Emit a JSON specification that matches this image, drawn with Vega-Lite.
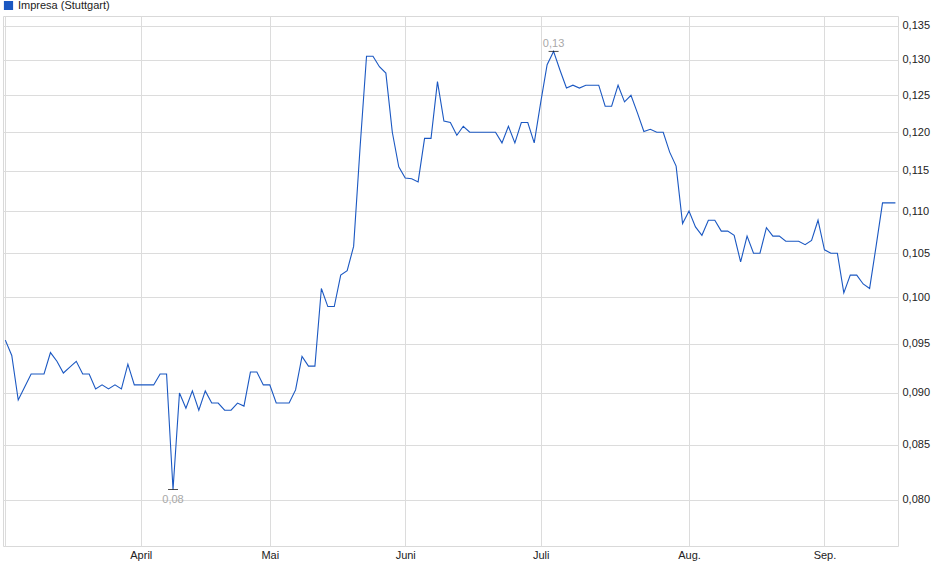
{
  "$schema": "https://vega.github.io/schema/vega-lite/v6.json",
  "autosize": "none",
  "width": 895,
  "height": 530,
  "padding": {"left": 3, "top": 16, "right": 42, "bottom": 33},
  "background": "#ffffff",
  "config": {
    "font": "Liberation Sans",
    "view": {"stroke": "#d9d9d9", "strokeWidth": 1},
    "axis": {"gridColor": "#dcdcdc", "gridWidth": 1, "domain": false, "ticks": false, "labelFontSize": 11, "labelColor": "#222222", "labelFont": "Liberation Sans", "title": null}
  },
  "datasets": {
    "series": [
      {"i": 0, "v": 0.0954}, {"i": 1, "v": 0.0938}, {"i": 2, "v": 0.0893}, {"i": 3, "v": 0.0906},
      {"i": 4, "v": 0.0919}, {"i": 5, "v": 0.0919}, {"i": 6, "v": 0.0919}, {"i": 7, "v": 0.0941},
      {"i": 8, "v": 0.0932}, {"i": 9, "v": 0.0920}, {"i": 10, "v": 0.0926}, {"i": 11, "v": 0.0932},
      {"i": 12, "v": 0.0919}, {"i": 13, "v": 0.0919}, {"i": 14, "v": 0.0904}, {"i": 15, "v": 0.0908},
      {"i": 16, "v": 0.0904}, {"i": 17, "v": 0.0908}, {"i": 18, "v": 0.0904}, {"i": 19, "v": 0.0929},
      {"i": 20, "v": 0.0908}, {"i": 21, "v": 0.0908}, {"i": 22, "v": 0.0908}, {"i": 23, "v": 0.0908},
      {"i": 24, "v": 0.0919}, {"i": 25, "v": 0.0919}, {"i": 26, "v": 0.0809}, {"i": 27, "v": 0.0900},
      {"i": 28, "v": 0.0885}, {"i": 29, "v": 0.0902}, {"i": 30, "v": 0.0883}, {"i": 31, "v": 0.0902},
      {"i": 32, "v": 0.0890}, {"i": 33, "v": 0.0890}, {"i": 34, "v": 0.0883}, {"i": 35, "v": 0.0883},
      {"i": 36, "v": 0.0890}, {"i": 37, "v": 0.0887}, {"i": 38, "v": 0.0921}, {"i": 39, "v": 0.0921},
      {"i": 40, "v": 0.0908}, {"i": 41, "v": 0.0908}, {"i": 42, "v": 0.0890}, {"i": 43, "v": 0.0890},
      {"i": 44, "v": 0.0890}, {"i": 45, "v": 0.0903}, {"i": 46, "v": 0.0937}, {"i": 47, "v": 0.0927},
      {"i": 48, "v": 0.0927}, {"i": 49, "v": 0.1010}, {"i": 50, "v": 0.0990}, {"i": 51, "v": 0.0990},
      {"i": 52, "v": 0.1025}, {"i": 53, "v": 0.1030}, {"i": 54, "v": 0.1058}, {"i": 55, "v": 0.1180},
      {"i": 56, "v": 0.1305}, {"i": 57, "v": 0.1305}, {"i": 58, "v": 0.1290}, {"i": 59, "v": 0.1281},
      {"i": 60, "v": 0.1200}, {"i": 61, "v": 0.1155}, {"i": 62, "v": 0.1141}, {"i": 63, "v": 0.1140},
      {"i": 64, "v": 0.1136}, {"i": 65, "v": 0.1192}, {"i": 66, "v": 0.1192}, {"i": 67, "v": 0.1269},
      {"i": 68, "v": 0.1215}, {"i": 69, "v": 0.1213}, {"i": 70, "v": 0.1196}, {"i": 71, "v": 0.1208},
      {"i": 72, "v": 0.1200}, {"i": 73, "v": 0.1200}, {"i": 74, "v": 0.1200}, {"i": 75, "v": 0.1200},
      {"i": 76, "v": 0.1200}, {"i": 77, "v": 0.1186}, {"i": 78, "v": 0.1208}, {"i": 79, "v": 0.1186},
      {"i": 80, "v": 0.1213}, {"i": 81, "v": 0.1213}, {"i": 82, "v": 0.1186}, {"i": 83, "v": 0.1240},
      {"i": 84, "v": 0.1293}, {"i": 85, "v": 0.1312}, {"i": 86, "v": 0.1285}, {"i": 87, "v": 0.1260},
      {"i": 88, "v": 0.1264}, {"i": 89, "v": 0.1260}, {"i": 90, "v": 0.1264}, {"i": 91, "v": 0.1264},
      {"i": 92, "v": 0.1264}, {"i": 93, "v": 0.1235}, {"i": 94, "v": 0.1235}, {"i": 95, "v": 0.1264},
      {"i": 96, "v": 0.1241}, {"i": 97, "v": 0.1250}, {"i": 98, "v": 0.1226}, {"i": 99, "v": 0.1201},
      {"i": 100, "v": 0.1204}, {"i": 101, "v": 0.1200}, {"i": 102, "v": 0.1200}, {"i": 103, "v": 0.1174},
      {"i": 104, "v": 0.1156}, {"i": 105, "v": 0.1085}, {"i": 106, "v": 0.1100}, {"i": 107, "v": 0.1081},
      {"i": 108, "v": 0.1071}, {"i": 109, "v": 0.1089}, {"i": 110, "v": 0.1089}, {"i": 111, "v": 0.1076},
      {"i": 112, "v": 0.1076}, {"i": 113, "v": 0.1071}, {"i": 114, "v": 0.1040}, {"i": 115, "v": 0.1070},
      {"i": 116, "v": 0.1050}, {"i": 117, "v": 0.1050}, {"i": 118, "v": 0.1080}, {"i": 119, "v": 0.1070},
      {"i": 120, "v": 0.1070}, {"i": 121, "v": 0.1064}, {"i": 122, "v": 0.1064}, {"i": 123, "v": 0.1064},
      {"i": 124, "v": 0.1060}, {"i": 125, "v": 0.1065}, {"i": 126, "v": 0.1089}, {"i": 127, "v": 0.1054},
      {"i": 128, "v": 0.1050}, {"i": 129, "v": 0.1050}, {"i": 130, "v": 0.1005}, {"i": 131, "v": 0.1025},
      {"i": 132, "v": 0.1025}, {"i": 133, "v": 0.1015}, {"i": 134, "v": 0.1010}, {"i": 135, "v": 0.1058},
      {"i": 136, "v": 0.1110}, {"i": 137, "v": 0.1110}, {"i": 138, "v": 0.1110}
    ],
    "extremes": [
      {"i": 26, "v": 0.0809, "label": "0,08", "side": "min"},
      {"i": 85, "v": 0.1312, "label": "0,13", "side": "max"}
    ]
  },
  "encoding": {
    "x": {
      "field": "i", "type": "quantitative",
      "scale": {"domain": [-0.36, 138.4], "nice": false, "zero": false},
      "axis": {
        "values": [0, 21, 41, 62, 83, 106, 127],
        "labelExpr": "datum.value == 21 ? 'April' : datum.value == 41 ? 'Mai' : datum.value == 62 ? 'Juni' : datum.value == 83 ? 'Juli' : datum.value == 106 ? 'Aug.' : datum.value == 127 ? 'Sep.' : ''",
        "labelPadding": 3,
        "labelFlush": false,
        "labelOverlap": false
      }
    },
    "y": {
      "field": "v", "type": "quantitative",
      "scale": {"type": "log", "domain": [0.07601, 0.13643], "nice": false, "zero": false},
      "axis": {
        "orient": "right",
        "values": [0.08, 0.085, 0.09, 0.095, 0.1, 0.105, 0.11, 0.115, 0.12, 0.125, 0.13, 0.135],
        "labelExpr": "replace(format(datum.value, '.3f'), '.', ',')",
        "labelPadding": 4,
        "labelOverlap": false
      }
    }
  },
  "layer": [
    {
      "data": {"name": "series"},
      "mark": {"type": "line", "strokeWidth": 1.1, "interpolate": "linear"},
      "encoding": {
        "color": {
          "datum": "Impresa (Stuttgart)",
          "type": "nominal",
          "scale": {"range": ["#1b58c2"]},
          "legend": {
            "title": null,
            "orient": "none",
            "legendX": 0,
            "legendY": -16,
            "symbolType": "square",
            "symbolSize": 64,
            "symbolFillColor": "#1b58c2",
            "symbolStrokeColor": "#1a1a1a",
            "symbolStrokeWidth": 1,
            "labelFontSize": 11,
            "labelColor": "#222222",
            "labelFont": "Liberation Sans",
            "labelOffset": 4,
            "padding": 0,
            "encode": {"symbols": {"update": {"fill": {"value": "#1b58c2"}, "stroke": {"value": "#111111"}, "strokeWidth": {"value": 1.2}, "opacity": {"value": 1}}}}
          }
        }
      }
    },
    {
      "data": {"name": "extremes"},
      "mark": {"type": "tick", "orient": "horizontal", "size": 10, "thickness": 1, "color": "#000000"}
    },
    {
      "data": {"name": "extremes"},
      "transform": [{"filter": "datum.side == 'min'"}],
      "mark": {"type": "text", "dy": 10, "baseline": "middle", "fontSize": 11, "color": "#a8a8a8", "font": "Liberation Sans"},
      "encoding": {"text": {"field": "label"}}
    },
    {
      "data": {"name": "extremes"},
      "transform": [{"filter": "datum.side == 'max'"}],
      "mark": {"type": "text", "dy": -7, "baseline": "middle", "fontSize": 11, "color": "#a8a8a8", "font": "Liberation Sans"},
      "encoding": {"text": {"field": "label"}}
    }
  ]
}
